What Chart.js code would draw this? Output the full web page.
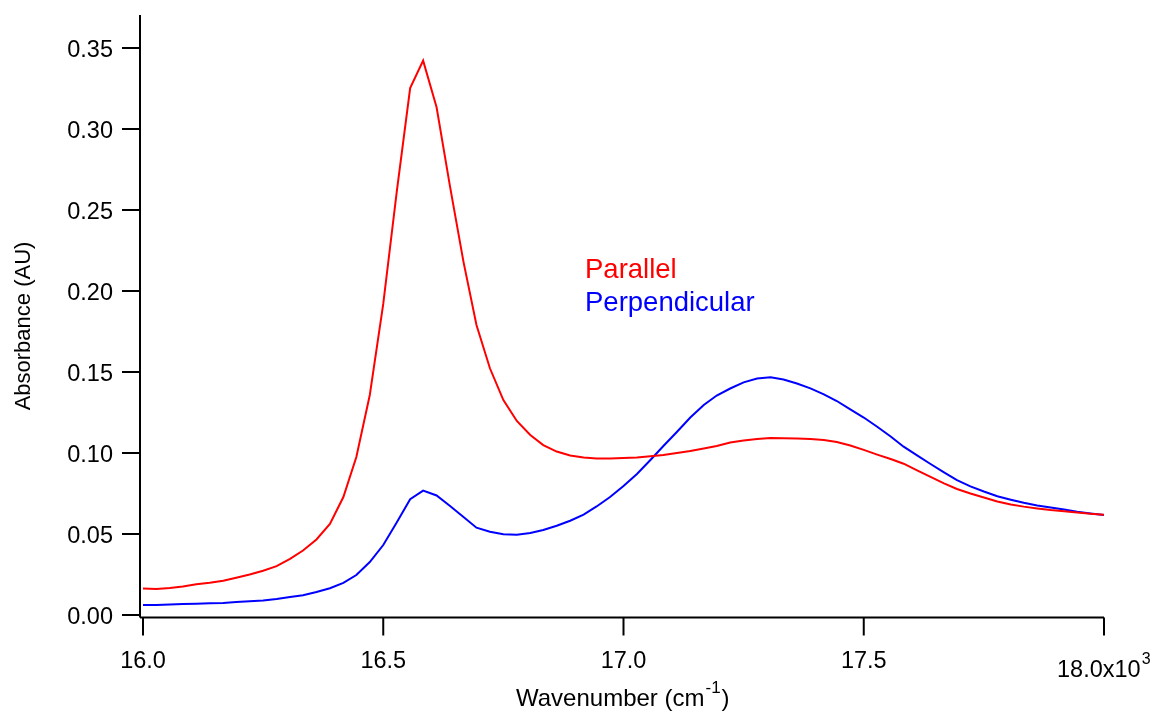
<!DOCTYPE html>
<html lang="en">
<head>
    <meta charset="UTF-8">
    <title>Absorbance spectra</title>
    <script src="https://cdn.jsdelivr.net/npm/chart.js"></script>
    <style>
        * {
            margin: 0;
            padding: 0;
        }

        body {
            background: #fff;
        }

        #spectrum {
            display: block;
        }
    </style>
</head>
<body>
    <canvas id="spectrum" width="1156" height="713"></canvas>

    <script>
        // wavenumber in units of 10^3 cm^-1
        const wavenumber = [
            16.000, 16.028, 16.056, 16.083, 16.111, 16.139, 16.167, 16.194, 16.222, 16.250,
            16.278, 16.306, 16.333, 16.361, 16.389, 16.417, 16.444, 16.472, 16.500, 16.528,
            16.556, 16.583, 16.611, 16.639, 16.667, 16.694, 16.722, 16.750, 16.778, 16.806,
            16.833, 16.861, 16.889, 16.917, 16.944, 16.972, 17.000, 17.028, 17.056, 17.083,
            17.111, 17.139, 17.167, 17.194, 17.222, 17.250, 17.278, 17.306, 17.333, 17.361,
            17.389, 17.417, 17.444, 17.472, 17.500, 17.528, 17.556, 17.583, 17.611, 17.639,
            17.667, 17.694, 17.722, 17.750, 17.778, 17.806, 17.833, 17.861, 17.889, 17.917,
            17.944, 17.972, 18.000
        ];

        const parallel = [
            0.0163, 0.0160, 0.0167, 0.0176, 0.0190, 0.0199, 0.0212, 0.0230, 0.0250, 0.0273,
            0.0302, 0.0346, 0.0398, 0.0466, 0.0562, 0.0728, 0.0975, 0.1358, 0.1920, 0.2611,
            0.3253, 0.3422, 0.3134, 0.2644, 0.2180, 0.1790, 0.1523, 0.1327, 0.1198, 0.1111,
            0.1049, 0.1009, 0.0985, 0.0972, 0.0966, 0.0966, 0.0969, 0.0972, 0.0980, 0.0988,
            0.1000, 0.1012, 0.1028, 0.1043, 0.1065, 0.1077, 0.1086, 0.1093, 0.1091, 0.1089,
            0.1086, 0.1080, 0.1068, 0.1046, 0.1019, 0.0990, 0.0963, 0.0934, 0.0893, 0.0852,
            0.0812, 0.0778, 0.0750, 0.0725, 0.0701, 0.0682, 0.0669, 0.0658, 0.0648, 0.0640,
            0.0633, 0.0625, 0.0619
        ];

        const perpendicular = [
            0.0062, 0.0062, 0.0065, 0.0068, 0.0070, 0.0073, 0.0074, 0.0080, 0.0085, 0.0090,
            0.0099, 0.0111, 0.0122, 0.0142, 0.0165, 0.0198, 0.0247, 0.0327, 0.0432, 0.0571,
            0.0715, 0.0768, 0.0738, 0.0673, 0.0605, 0.0539, 0.0514, 0.0498, 0.0496, 0.0506,
            0.0525, 0.0551, 0.0582, 0.0620, 0.0670, 0.0728, 0.0796, 0.0870, 0.0957, 0.1043,
            0.1130, 0.1219, 0.1296, 0.1355, 0.1398, 0.1436, 0.1460, 0.1467, 0.1454, 0.1429,
            0.1399, 0.1362, 0.1321, 0.1269, 0.1219, 0.1162, 0.1102, 0.1039, 0.0985, 0.0932,
            0.0881, 0.0833, 0.0794, 0.0762, 0.0733, 0.0712, 0.0693, 0.0676, 0.0663, 0.0651,
            0.0638, 0.0627, 0.0617
        ];

        const xTicks = [16.0, 16.5, 17.0, 17.5, 18.0];
        const xTickLabels = ['16.0', '16.5', '17.0', '17.5', '18.0x10'];
        const yTicks = [0.00, 0.05, 0.10, 0.15, 0.20, 0.25, 0.30, 0.35];
        const yTickLabels = ['0.00', '0.05', '0.10', '0.15', '0.20', '0.25', '0.30', '0.35'];

        const FONT = '"Liberation Sans", Arial, sans-serif';

        function toPoints(ys) {
            return ys.map((y, i) => ({ x: wavenumber[i], y: y }));
        }

        // Igor-style frame: offset left/bottom axes, outward ticks, hand-placed labels
        const frame = {
            id: 'frame',
            afterDraw(chart) {
                const ctx = chart.ctx;
                const xs = chart.scales.x;
                const ys = chart.scales.y;
                const axisX = xs.getPixelForValue(16.0) - 3;
                const axisY = ys.getPixelForValue(0) + 2.5;
                const right = xs.getPixelForValue(18.0);

                ctx.save();
                ctx.strokeStyle = '#000';
                ctx.fillStyle = '#000';
                ctx.lineWidth = 2;

                // left axis
                ctx.beginPath();
                ctx.moveTo(axisX, 15);
                ctx.lineTo(axisX, axisY);
                ctx.stroke();

                ctx.font = '23.5px ' + FONT;
                ctx.textAlign = 'right';
                ctx.textBaseline = 'alphabetic';
                yTicks.forEach((v, i) => {
                    const py = ys.getPixelForValue(v);
                    ctx.beginPath();
                    ctx.moveTo(axisX - 18, py);
                    ctx.lineTo(axisX, py);
                    ctx.stroke();
                    ctx.fillText(yTickLabels[i], axisX - 27, py + 8.5);
                });

                // bottom axis
                ctx.beginPath();
                ctx.moveTo(axisX, axisY);
                ctx.lineTo(right, axisY);
                ctx.stroke();

                ctx.textAlign = 'center';
                xTicks.forEach((v, i) => {
                    const px = xs.getPixelForValue(v);
                    ctx.beginPath();
                    ctx.moveTo(px, axisY);
                    ctx.lineTo(px, axisY + 18);
                    ctx.stroke();
                    if (i < xTicks.length - 1) {
                        ctx.fillText(xTickLabels[i], px, 668);
                    }
                });

                // last tick carries the x10^3 multiplier
                const lastX = xs.getPixelForValue(xTicks[xTicks.length - 1]);
                ctx.textAlign = 'left';
                const base = xTickLabels[xTickLabels.length - 1];
                const bw = ctx.measureText(base).width;
                const bx = lastX - 47;
                ctx.fillText(base, bx, 677);
                ctx.font = '16px ' + FONT;
                ctx.fillText('3', bx + bw + 1, 664);

                // axis titles
                ctx.font = '24px ' + FONT;
                const title = 'Wavenumber (cm';
                const tw = ctx.measureText(title).width;
                const tx = 516;
                ctx.fillText(title, tx, 706);
                ctx.font = '17px ' + FONT;
                const sup = '-1';
                const sw = ctx.measureText(sup).width;
                ctx.fillText(sup, tx + tw + 1, 693);
                ctx.font = '24px ' + FONT;
                ctx.fillText(')', tx + tw + sw + 2, 706);

                ctx.save();
                ctx.font = '22px ' + FONT;
                ctx.translate(30, 326);
                ctx.rotate(-Math.PI / 2);
                ctx.textAlign = 'center';
                ctx.fillText('Absorbance (AU)', 0, 0);
                ctx.restore();

                // legend text
                ctx.font = '27.5px ' + FONT;
                ctx.textAlign = 'left';
                ctx.fillStyle = '#ff0000';
                ctx.fillText('Parallel', 585, 278);
                ctx.fillStyle = '#0000ff';
                ctx.fillText('Perpendicular', 585, 311);

                ctx.restore();
            }
        };

        const ctx = document.getElementById('spectrum').getContext('2d');

        new Chart(ctx, {
            type: 'line',
            data: {
                datasets: [
                    {
                        label: 'Parallel',
                        data: toPoints(parallel),
                        borderColor: '#ff0000',
                        borderWidth: 2,
                        pointRadius: 0,
                        tension: 0,
                        fill: false
                    },
                    {
                        label: 'Perpendicular',
                        data: toPoints(perpendicular),
                        borderColor: '#0000ff',
                        borderWidth: 2,
                        pointRadius: 0,
                        tension: 0,
                        fill: false
                    }
                ]
            },
            options: {
                responsive: false,
                animation: false,
                devicePixelRatio: 1,
                layout: {
                    padding: { left: 143, right: 52, top: 15.6, bottom: 98 }
                },
                scales: {
                    x: { type: 'linear', min: 16.0, max: 18.0, display: false },
                    y: { type: 'linear', min: 0, max: 0.37, display: false }
                },
                plugins: {
                    legend: { display: false },
                    tooltip: { enabled: false }
                }
            },
            plugins: [frame]
        });
    </script>
</body>
</html>
